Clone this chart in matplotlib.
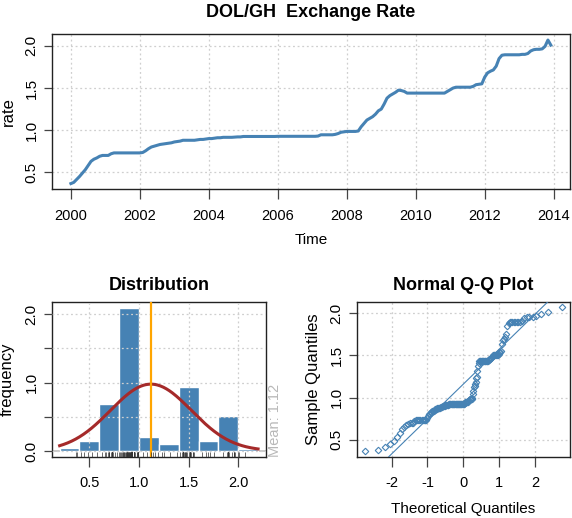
import numpy as np
import matplotlib
matplotlib.use("Agg")
import matplotlib.pyplot as plt
from statistics import NormalDist

# monthly DOL/GH rate, Jan 2000 .. Dec 2013
start_year = 2000
rate = [
    0.366, 0.38, 0.415, 0.45, 0.49, 0.53, 0.58, 0.63, 0.655, 0.67, 0.69, 0.70,      # 2000
    0.70, 0.70, 0.72, 0.73, 0.73, 0.73, 0.73, 0.73, 0.73, 0.73, 0.73, 0.73,         # 2001
    0.73, 0.735, 0.755, 0.78, 0.80, 0.81, 0.82, 0.83, 0.835, 0.84, 0.845, 0.85,     # 2002
    0.86, 0.865, 0.87, 0.88, 0.88, 0.88, 0.88, 0.88, 0.885, 0.89, 0.89, 0.895,      # 2003
    0.90, 0.90, 0.905, 0.91, 0.91, 0.915, 0.915, 0.915, 0.915, 0.918, 0.92, 0.92,   # 2004
    0.925, 0.925, 0.925, 0.925, 0.925, 0.925, 0.925, 0.925, 0.925, 0.925, 0.925, 0.925,  # 2005
    0.927, 0.927, 0.927, 0.927, 0.927, 0.927, 0.927, 0.927, 0.927, 0.927, 0.927, 0.927,  # 2006
    0.927, 0.927, 0.93, 0.945, 0.945, 0.945, 0.945, 0.945, 0.95, 0.96, 0.975, 0.98,  # 2007
    0.985, 0.985, 0.985, 0.985, 0.99, 1.04, 1.08, 1.12, 1.14, 1.16, 1.19, 1.23,     # 2008
    1.25, 1.31, 1.38, 1.41, 1.43, 1.45, 1.475, 1.47, 1.46, 1.44, 1.44, 1.44,        # 2009
    1.44, 1.44, 1.44, 1.44, 1.44, 1.44, 1.44, 1.44, 1.44, 1.44, 1.44, 1.46,         # 2010
    1.48, 1.50, 1.51, 1.51, 1.51, 1.51, 1.51, 1.51, 1.52, 1.54, 1.545, 1.55,        # 2011
    1.63, 1.68, 1.70, 1.715, 1.76, 1.85, 1.89, 1.895, 1.895, 1.895, 1.895, 1.895,   # 2012
    1.895, 1.90, 1.90, 1.91, 1.94, 1.955, 1.96, 1.96, 1.965, 1.995, 2.07, 2.01,     # 2013
]

# histogram (density)
bins = [0.2, 0.4, 0.6, 0.8, 1.0, 1.2, 1.4, 1.6, 1.8, 2.0, 2.2]
hist_density = [0.04, 0.14, 0.68, 2.09, 0.20, 0.10, 0.93, 0.14, 0.515, 0.03]
mean_rate = 1.12
sd_rate = 0.408

year_ticks = [2000, 2002, 2004, 2006, 2008, 2010, 2012, 2014]
rate_ticks = [0.5, 1.0, 1.5, 2.0]
hist_xticks = [0.5, 1.0, 1.5, 2.0]
hist_yticks = [0.0, 0.5, 1.0, 1.5, 2.0]
hist_ylabels = ["0.0", "", "1.0", "", "2.0"]
qq_xticks = [-2, -1, 0, 1, 2]

narrow = ["Liberation Sans Narrow", "Liberation Sans", "DejaVu Sans"]
regular = ["Liberation Sans", "DejaVu Sans"]

steel = "#4682B4"
W, H = 572, 518


def box(l, t, r, b):
    # pixel box -> figure fraction
    return [l / W, 1 - b / H, (r - l) / W, (b - t) / H]


def style(ax, xt, xl, yt, yl):
    for s in ax.spines.values():
        s.set_linewidth(1.0)
        s.set_color("#222222")
    ax.set_xticks(xt, labels=xl, fontfamily=narrow, fontsize=10.5)
    ax.set_yticks(yt, labels=yl, fontfamily=regular, fontsize=11,
                  rotation=90, va="center")
    ax.tick_params(axis="x", length=7.2, width=0.9, color="#444444", pad=7)
    ax.tick_params(axis="y", length=6, width=0.9, color="#444444", pad=3.5)
    ax.grid(True, color="#cfcfcf", linestyle=(0, (1.5, 2.2)), linewidth=0.9)


def ylab(ax, text, x):
    ax.set_ylabel(text, fontsize=12, fontfamily=regular)
    ax.yaxis.label.set_verticalalignment("baseline")
    ax.yaxis.set_label_coords(x, 0.5)


fig = plt.figure(figsize=(W / 100, H / 100), dpi=100)

# ---- top: time series
ax1 = fig.add_axes(box(51.7, 34.3, 570, 189.3))
months = start_year + np.arange(len(rate)) / 12
ax1.plot(months, rate, color=steel, lw=2.2, zorder=3)
ax1.margins(0.04)
ax1.set_axisbelow(True)
style(ax1, year_ticks, [str(y) for y in year_ticks],
      rate_ticks, [f"{v:.1f}" for v in rate_ticks])
ax1.set_title("DOL/GH  Exchange Rate", fontsize=13, fontweight="bold",
              fontfamily=narrow, pad=12.5)
ax1.set_xlabel("Time", fontsize=11, fontfamily=narrow)
ax1.xaxis.set_label_coords(0.5, -0.285)
ylab(ax1, "rate", -0.075)

# ---- bottom left: distribution
ax2 = fig.add_axes(box(51.7, 301.7, 266, 456.7))
ax2.axhline(0, color="#c4c4c4", lw=1.3, zorder=0.9)
ax2.bar(bins[:-1], hist_density, width=np.diff(bins), align="edge",
        color=steel, edgecolor="white", linewidth=1.0, zorder=1)
xs = np.linspace(bins[0], bins[-1], 200)
ax2.plot(xs, np.exp(-0.5 * ((xs - mean_rate) / sd_rate) ** 2) / (sd_rate * np.sqrt(2 * np.pi)),
         color="#a52a2a", lw=2.2, zorder=3)
ax2.axvline(mean_rate, color="#ffa500", lw=1.6, zorder=4)
ax2.vlines(rate, 0, 0.03, transform=ax2.get_xaxis_transform(),
           color="#333333", lw=0.5, zorder=4)
ax2.set_xlim(0.12, 2.28)
ax2.set_ylim(-0.084, 2.184)
ax2.set_axisbelow(False)
style(ax2, hist_xticks, [f"{v:.1f}" for v in hist_xticks], hist_yticks, hist_ylabels)
ax2.set_title("Distribution", fontsize=13, fontweight="bold",
              fontfamily=narrow, pad=8.5)
ylab(ax2, "frequency", -0.185)
ax2.text(1.062, 0.0, f"Mean: {mean_rate:.2f}", transform=ax2.transAxes,
         rotation=90, rotation_mode="anchor", ha="left", va="baseline",
         color="#b8b8b8", fontsize=10.5, fontfamily=regular, clip_on=False)

# ---- bottom right: normal Q-Q
ax3 = fig.add_axes(box(356.7, 301.7, 570, 456.7))
nd = NormalDist()
n = len(rate)
theo = [nd.inv_cdf((i + 0.5) / n) for i in range(n)]
ax3.plot(theo, np.sort(rate), linestyle="none", marker="D", ms=3.3,
         mfc="none", mec=steel, mew=0.8, zorder=3)
q1, q3 = np.quantile(rate, [0.25, 0.75])
z1, z3 = nd.inv_cdf(0.25), nd.inv_cdf(0.75)
slope = (q3 - q1) / (z3 - z1)
ax3.axline((0, q1 - slope * z1), slope=slope, color=steel, lw=0.8, zorder=3)
ax3.margins(0.04)
ax3.set_axisbelow(True)
style(ax3, qq_xticks, [str(v) for v in qq_xticks],
      rate_ticks, [f"{v:.1f}" for v in rate_ticks])
ax3.set_title("Normal Q-Q Plot", fontsize=13, fontweight="bold",
              fontfamily=narrow, pad=8.5)
ax3.set_xlabel("Theoretical Quantiles", fontsize=11, fontfamily=narrow)
ax3.xaxis.set_label_coords(0.5, -0.295)
ylab(ax3, "Sample Quantiles", -0.181)

fig.savefig("out.png", dpi=100)
